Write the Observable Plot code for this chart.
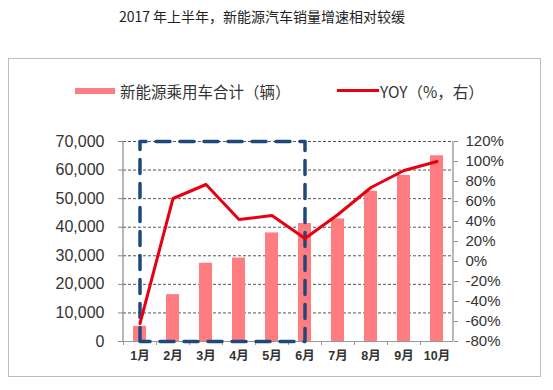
<!DOCTYPE html>
<html>
<head>
<meta charset="utf-8">
<script src="https://cdn.jsdelivr.net/npm/d3@7"></script>
<script src="https://cdn.jsdelivr.net/npm/@observablehq/plot@0.6"></script>
<style>
  html, body { margin: 0; padding: 0; background: #fff; }
  #wrap { position: relative; width: 553px; height: 390px; overflow: hidden; font-family: "Noto Sans CJK SC", sans-serif; }
  #title { position: absolute; left: 0; width: 524px; top: 6px; text-align: center; font-size: 14px; color: #222; white-space: nowrap; }
  #frame { position: absolute; left: 8px; top: 58px; width: 531px; height: 317px; border: 1.5px solid #bdbdbd; }
  .sw { position: absolute; }
  .lg { position: absolute; font-size: 15.5px; color: #333; white-space: nowrap; line-height: 20px; }
  #chart { position: absolute; left: 0; top: 0; }
</style>
</head>
<body>
<div id="wrap">
  <div id="title"></div>
  <div id="frame"></div>
  <div class="sw" id="sw1" style="left:75px; top:88px; width:40px; height:6px; background:#ff7c80;"></div>
  <div class="lg" id="lg1" style="left:120px; top:81px;"></div>
  <div class="sw" id="sw2" style="left:337px; top:89px; width:42px; height:3px; background:#e60012;"></div>
  <div class="lg" id="lg2" style="left:380px; top:81px;"></div>
  <div id="chart"></div>
</div>
<script>
const titleText = "2017 年上半年，新能源汽车销量增速相对较缓";
const legendBar = "新能源乘用车合计（辆）";
const legendLine = "YOY（%，右）";

const months = ["1月","2月","3月","4月","5月","6月","7月","8月","9月","10月"];
const sales = [5300, 16400, 27400, 29200, 38000, 41300, 42900, 52600, 58100, 65000];
const yoy = [-62, 63, 77, 42, 46, 23, 47, 74, 91, 100];
const leftTicks = [0, 10000, 20000, 30000, 40000, 50000, 60000, 70000];
const rightTicks = [-80, -60, -40, -20, 0, 20, 40, 60, 80, 100, 120];
const highlightMonths = ["1月", "6月"];

document.getElementById("title").textContent = titleText;
document.getElementById("lg1").textContent = legendBar;
document.getElementById("lg2").textContent = legendLine;

const yMax = leftTicks[leftTicks.length - 1];
const pMin = rightTicks[0], pMax = rightTicks[rightTicks.length - 1];
const toY = p => (p - pMin) / (pMax - pMin) * yMax;
const fromY = v => Math.round(v / yMax * (pMax - pMin) + pMin);

const data = months.map((m, i) => ({m, v: sales[i], p: yoy[i]}));
const box = [
  {m: highlightMonths[0], v: 0},
  {m: highlightMonths[0], v: yMax},
  {m: highlightMonths[1], v: yMax},
  {m: highlightMonths[1], v: 0},
  {m: highlightMonths[0], v: 0}
];

const numFont = "Liberation Sans, Arial, sans-serif";

const chart = Plot.plot({
  width: 553,
  height: 390,
  marginLeft: 123,
  marginRight: 100,
  marginTop: 141,
  marginBottom: 49,
  x: {type: "band", domain: months, paddingInner: 0.6, paddingOuter: 0.3, axis: null},
  y: {domain: [0, yMax], axis: null},
  style: {background: "transparent", overflow: "visible"},
  marks: [
    Plot.ruleY(leftTicks.slice(1), {stroke: "#555", strokeDasharray: "3,2", strokeWidth: 1}),
    Plot.barY(data, {x: "m", y: "v", fill: "#ff7c80"}),
    Plot.ruleY([0], {stroke: "#999", strokeWidth: 1.2}),
    Plot.axisX({ticks: months, tickFormat: () => "", tickSize: 4, dx: -16.5, stroke: "#999", fill: "none"}),
    Plot.axisX({ticks: months, tickSize: 0, tickPadding: 10, fontSize: 12.5, fontWeight: "bold", fill: "#333", fontFamily: numFont + ", Noto Sans CJK SC", label: null}),
    Plot.axisY({ticks: leftTicks, anchor: "left", tickFormat: d3.format(","), tickSize: 5, tickPadding: 14, fontSize: 16, fill: "#333", stroke: "#888", fontFamily: numFont, label: null}),
    Plot.axisY({ticks: rightTicks.map(toY), anchor: "right", tickFormat: d => fromY(d) + "%", tickSize: 4, tickPadding: 8, fontSize: 15, fill: "#333", stroke: "#888", fontFamily: numFont, label: null}),
    Plot.line(box, {x: "m", y: "v", stroke: "#1f497d", strokeWidth: 3.5, strokeDasharray: "14,10"}),
    Plot.line(data, {x: "m", y: d => toY(d.p), stroke: "#e60012", strokeWidth: 3})
  ]
});

document.getElementById("chart").appendChild(chart);
// vertical axis lines at the plot frame's left and right edges
const svg = d3.select(chart);
svg.append("line").attr("x1", 123).attr("x2", 123).attr("y1", 141).attr("y2", 341).attr("stroke", "#888").attr("stroke-width", 1.2);
svg.append("line").attr("x1", 453).attr("x2", 453).attr("y1", 141).attr("y2", 341).attr("stroke", "#888").attr("stroke-width", 1.2);
</script>
</body>
</html>
